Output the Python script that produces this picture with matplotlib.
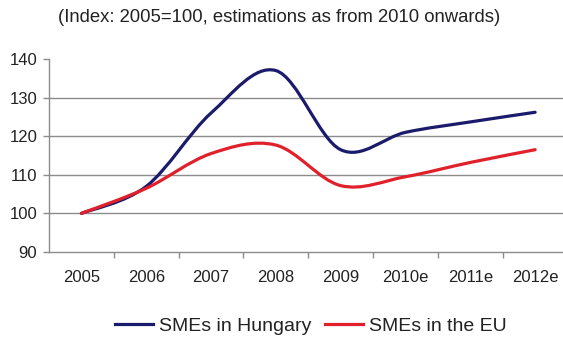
import matplotlib
matplotlib.use("Agg")
import matplotlib.pyplot as plt
from matplotlib.path import Path
from matplotlib.patches import PathPatch
from matplotlib.lines import Line2D

plt.rcParams['font.family'] = ['Liberation Sans', 'DejaVu Sans']

# data
years = ['2005', '2006', '2007', '2008', '2009', '2010e', '2011e', '2012e']
hungary = [100, 107, 126, 137, 116.5, 121, 123.7, 126.2]
eu = [100, 106.5, 115.5, 117.7, 107.2, 109.5, 113.2, 116.5]
yticks = [90, 100, 110, 120, 130, 140]

title = '(Index: 2005=100, estimations as from 2010 onwards)'
label_hu = 'SMEs in Hungary'
label_eu = 'SMEs in the EU'
col_hu = '#1b1b6b'
col_eu = '#e0202a'


def smooth_path(ys):
    # Excel-like smoothed line: cubic bezier through every point
    n = len(ys)
    pts = list(zip(range(n), ys))
    verts = [pts[0]]
    codes = [Path.MOVETO]
    for i in range(n - 1):
        p0 = pts[max(i - 1, 0)]
        p1 = pts[i]
        p2 = pts[i + 1]
        p3 = pts[min(i + 2, n - 1)]
        c1 = (p1[0] + (p2[0] - p0[0]) / 6, p1[1] + (p2[1] - p0[1]) / 6)
        c2 = (p2[0] - (p3[0] - p1[0]) / 6, p2[1] - (p3[1] - p1[1]) / 6)
        verts += [c1, c2, p2]
        codes += [Path.CURVE4] * 3
    return Path(verts, codes)


fig = plt.figure(figsize=(5.63, 3.38), dpi=100)
ax = fig.add_axes([49 / 563, 86 / 338, 1 - 49 / 563, 193 / 338])

for ys, c in [(hungary, col_hu), (eu, col_eu)]:
    ax.add_patch(PathPatch(smooth_path(ys), fill=False, edgecolor=c,
                           lw=2.3, capstyle='round', zorder=3))

# horizontal gridlines (none on top line)
for v in yticks[1:-1]:
    ax.axhline(v, color='#8c8c8c', lw=1.0, zorder=1)

ax.set_xlim(-0.5, 7.43)
ax.set_ylim(yticks[0], yticks[-1])
ax.set_yticks(yticks)
ax.set_xticks(range(len(years)))
ax.set_xticklabels(years)
ax.set_xticks([i + 0.5 for i in range(len(years) - 1)], minor=True)

for s in ['top', 'right']:
    ax.spines[s].set_visible(False)
for s in ['left', 'bottom']:
    ax.spines[s].set_color('#8c8c8c')
    ax.spines[s].set_linewidth(1.0)

ax.tick_params(axis='y', direction='out', length=4.5, width=1.0,
               color='#8c8c8c', pad=4, labelsize=12, labelcolor='#222222')
ax.tick_params(axis='x', which='major', length=0, pad=13,
               labelsize=12, labelcolor='#222222')
ax.tick_params(axis='x', which='minor', direction='out', length=4,
               width=1.0, color='#8c8c8c')

fig.text(279 / 563, 1 - 18 / 338, title, ha='center', va='center',
         fontsize=13.3, color='#222222')

handles = [Line2D([], [], color=col_hu, lw=2.3),
           Line2D([], [], color=col_eu, lw=2.3)]
fig.legend(handles, [label_hu, label_eu], loc='center',
           bbox_to_anchor=(311 / 563, 1 - 326 / 338), ncol=2, frameon=False,
           fontsize=14, handlelength=1.95, handletextpad=0.3,
           columnspacing=0.7, borderpad=0, labelcolor='#222222')

fig.savefig('out.png', dpi=100)
